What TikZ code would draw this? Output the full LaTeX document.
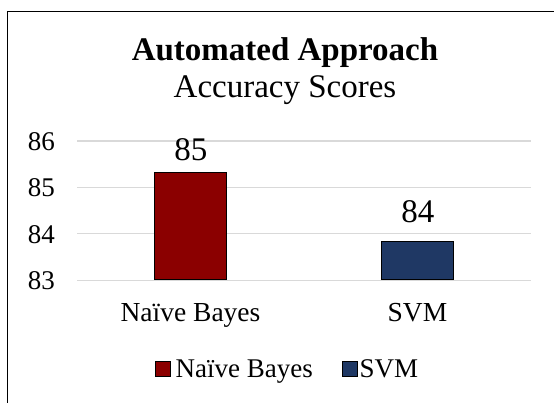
\documentclass[tikz,border=0pt]{standalone}
\usepackage{fontspec}
\setmainfont{Liberation Serif}
\usetikzlibrary{calc}
\definecolor{nbred}{RGB}{139,0,0}
\definecolor{svmblue}{RGB}{31,56,100}
\definecolor{gridgray}{RGB}{217,217,217}

\begin{document}
\begin{tikzpicture}[x=1pt,y=-1pt,
  ticklbl/.style={anchor=base east,inner sep=0pt,font=\fontsize{27}{30}\selectfont},
  catlbl/.style={anchor=base,inner sep=0pt,font=\fontsize{27.5}{30}\selectfont},
  vallbl/.style={anchor=base,inner sep=0pt,font=\fontsize{33}{36}\selectfont},
  bar/.style={draw=black,line width=1pt,minimum width=72pt,inner sep=0pt,anchor=south},
  keybox/.style={draw=black,line width=0.8pt,minimum size=15pt,inner sep=0pt}]
\useasboundingbox (0,0) rectangle (554,403);
% chart frame (only top and left edge in view)
\draw[line width=1.5pt] (7.5,403) -- (7.5,11.5) -- (554,11.5);
% title
\node[anchor=base,inner sep=0pt,font=\fontsize{33}{36}\selectfont\bfseries] (title) at (285,61) {Automated Approach};
\node[anchor=base,inner sep=0pt,font=\fontsize{33}{36}\selectfont] (subtitle) at (285,97.5) {Accuracy Scores};
% grid and axis values
\foreach \v/\yy in {83/280.3,84/233.9,85/187.5,86/141.1}{
  \draw[gridgray,line width=1.2pt] (77,\yy) -- (531,\yy);
  \node[ticklbl] (tick\v) at (55,\yy+9.5) {\v};
}
% bars
\node[bar,fill=nbred,minimum height=107pt] (nbbar) at (190.8,280.3) {};
\node[bar,fill=svmblue,minimum height=38.6pt] (svmbar) at (417.8,280.3) {};
\node[vallbl] (nbval) at ($(nbbar.north)+(0,-11.6)$) {85};
\node[vallbl] (svmval) at ($(svmbar.north)+(0,-17.7)$) {84};
% categories
\node[catlbl] (nbcat) at (190.5,321.7) {Naïve Bayes};
\node[catlbl] (svmcat) at (417.5,321.7) {SVM};
% legend
\node[keybox,fill=nbred] (nbkey) at (163,369) {};
\node[anchor=base west,inner sep=0pt,font=\fontsize{27}{30}\selectfont] (nbkeytxt) at (175.5,377.3) {Naïve Bayes};
\node[keybox,fill=svmblue] (svmkey) at (350,369) {};
\node[anchor=base west,inner sep=0pt,font=\fontsize{27}{30}\selectfont] (svmkeytxt) at (359.5,377.3) {SVM};
\end{tikzpicture}
\end{document}
